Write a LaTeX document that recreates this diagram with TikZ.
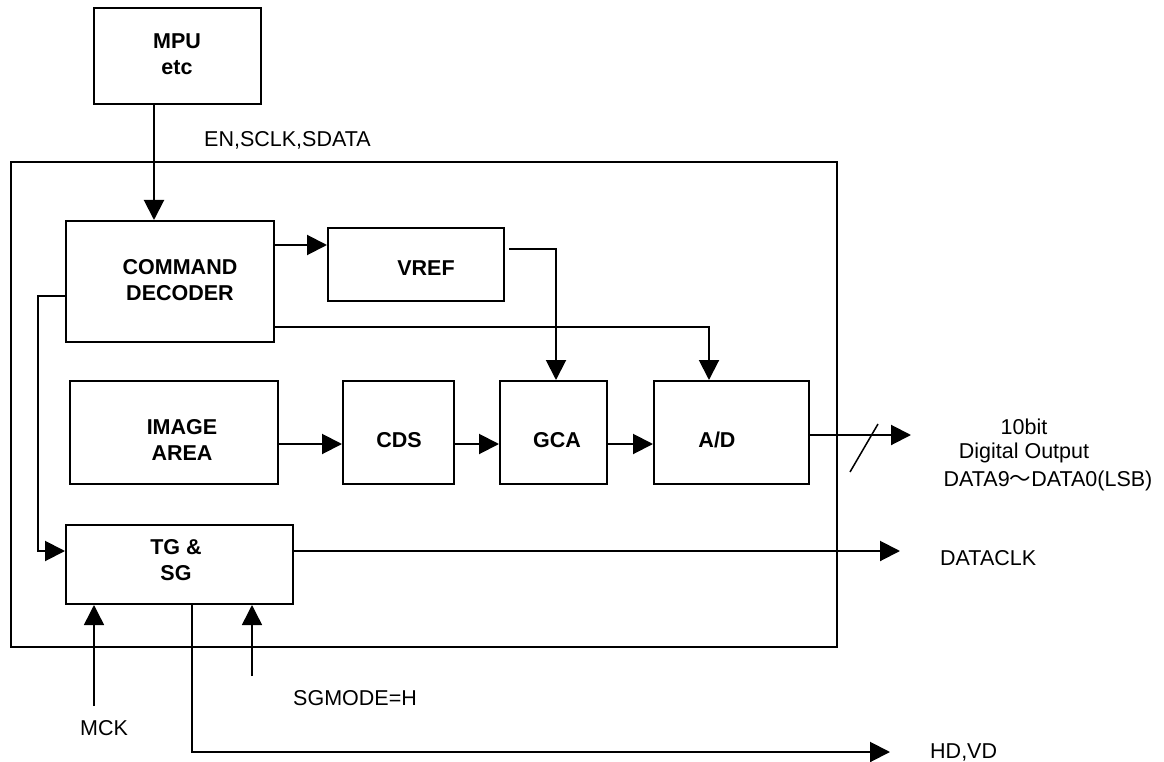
\documentclass[tikz,border=0pt]{standalone}
\usepackage{fontspec}
\setmainfont{Liberation Sans}
\newfontfamily\cjk{Noto Sans CJK JP}
\usetikzlibrary{arrows.meta}
\tikzset{
  every node/.style={font=\fontsize{21.5}{26}\selectfont},
  blk/.style={draw, line width=2pt, inner sep=0pt},
  btxt/.style={inner sep=0pt, align=center, font=\fontsize{21.5}{26}\selectfont\bfseries},
  ltxt/.style={inner sep=0pt, align=center},
  conn/.style={line width=2pt},
  arr/.style={line width=2pt, -{Triangle[length=20pt,width=20pt]}},
  thinarr/.style={line width=1.5pt, -{Triangle[length=20pt,width=20pt]}},
}
\begin{document}
\begin{tikzpicture}[x=1pt,y=-1pt]
\path[use as bounding box, fill=white] (0,0) rectangle (1164,762);

% boxes
\node[blk, minimum width=826pt, minimum height=485pt] (outer) at (424,404.5) {};
\node[blk, minimum width=167pt, minimum height=96pt] (mpu) at (177.5,56) {};
\node[blk, minimum width=208pt, minimum height=121pt] (cmd) at (170,281.5) {};
\node[blk, minimum width=176pt, minimum height=73pt] (vref) at (416,264.5) {};
\node[blk, minimum width=208pt, minimum height=103pt] (img) at (174,432.5) {};
\node[blk, minimum width=111pt, minimum height=103pt] (cds) at (398.5,432.5) {};
\node[blk, minimum width=107pt, minimum height=103pt] (gca) at (553.5,432.5) {};
\node[blk, minimum width=155pt, minimum height=103pt] (ad) at (731.5,432.5) {};
\node[blk, minimum width=227pt, minimum height=79pt] (tg) at (179.5,564.5) {};

% box texts
\node[btxt] (mputxt) at (177,54) {MPU\\etc};
\node[btxt] (cmdtxt) at (180,280) {COMMAND\\DECODER};
\node[btxt] (vreftxt) at (426,268) {VREF};
\node[btxt] (imgtxt) at (182,440) {IMAGE\\AREA};
\node[btxt] (cdstxt) at (399,440) {CDS};
\node[btxt] (gcatxt) at (557,440) {GCA};
\node[btxt] (adtxt) at (717,440) {A/D};
\node[btxt] (tgtxt) at (176,560) {TG \&\\SG};

% helper coordinates
\coordinate (c154) at (154,0);
\coordinate (r245) at (0,245);
\coordinate (r249) at (0,249);
\coordinate (c556) at (556,0);
\coordinate (r327) at (0,327);
\coordinate (c709) at (709,0);
\coordinate (r444) at (0,444);
\coordinate (r435) at (0,435);
\coordinate (r296) at (0,296);
\coordinate (fb) at (38,551);
\coordinate (outtip) at (911,435);
\coordinate (slashA) at (850,472);
\coordinate (slashB) at (878,424);
\coordinate (dclk) at (900,551);
\coordinate (mck) at (94,706);
\coordinate (sgm) at (252,676);
\coordinate (c192) at (192,0);
\coordinate (hdtip) at (890,752);

% connectors
\draw[arr] (mpu.south -| c154) -- (cmd.north -| c154);
\draw[arr] (cmd.east |- r245) -- (vref.west |- r245);
\draw[arr] ([xshift=4pt]vref.east |- r249) -| (gca.north -| c556);
\draw[arr] (cmd.east |- r327) -| (ad.north -| c709);
\draw[arr] (img.east |- r444) -- (cds.west |- r444);
\draw[arr] (cds.east |- r444) -- (gca.west |- r444);
\draw[arr] (gca.east |- r444) -- (ad.west |- r444);
\draw[arr] (ad.east |- r435) -- (outtip);
\draw[conn, line width=1.5pt] (slashA) -- (slashB);
\draw[arr] (cmd.west |- r296) -| (fb) -- (tg.west |- fb);
\draw[arr] (tg.east |- dclk) -- (dclk);
\draw[thinarr] (mck) -- (mck |- tg.south);
\draw[thinarr] (sgm) -- (sgm |- tg.south);
\draw[arr] (tg.south -| c192) |- (hdtip);

% labels
\node[ltxt, anchor=west] (enlbl) at (204,140) {EN,SCLK,SDATA};
\node[ltxt, font=\fontsize{21.5}{24}\selectfont] (outlbl) at (1024,441) {10bit\\Digital Output};
\node[ltxt] (datalbl) at (1048,481) {DATA9{\cjk ～}DATA0(LSB)};
\node[ltxt, anchor=west] (dclklbl) at (940,558) {DATACLK};
\node[ltxt, anchor=west] (hdlbl) at (930,752) {HD,VD};
\node[ltxt] (mcklbl) at (104,728) {MCK};
\node[ltxt, anchor=west] (sglbl) at (293,698) {SGMODE=H};
\end{tikzpicture}
\end{document}
